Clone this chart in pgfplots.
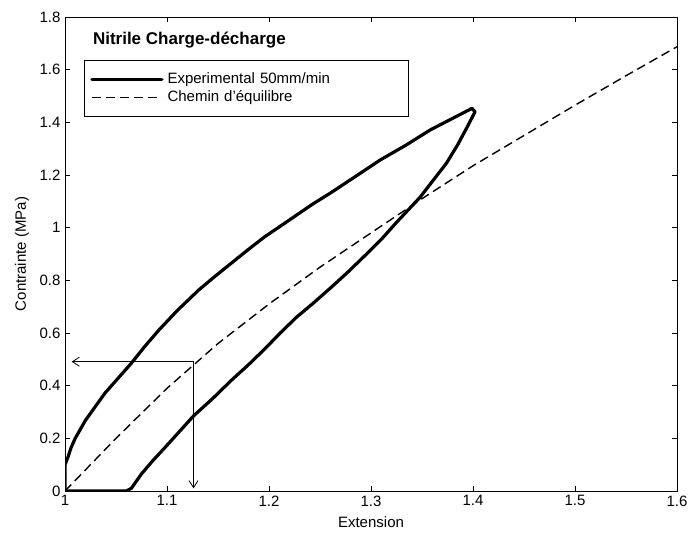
\documentclass[border=0pt]{standalone}
\usepackage{fontspec}
\setmainfont{Liberation Sans}
\usepackage{pgfplots}
\pgfplotsset{compat=1.18}
\usetikzlibrary{arrows.meta}

% Loading/unloading loop of the nitrile sample (one closed path)
\pgfplotstableread{
x y
1.000 0.000
1.000 0.100
1.003 0.130
1.006 0.165
1.010 0.200
1.020 0.268
1.030 0.322
1.039 0.371
1.052 0.428
1.065 0.485
1.078 0.548
1.092 0.611
1.110 0.685
1.131 0.763
1.147 0.815
1.163 0.865
1.180 0.918
1.196 0.966
1.212 1.008
1.226 1.045
1.243 1.090
1.260 1.131
1.285 1.195
1.309 1.257
1.335 1.315
1.358 1.371
1.380 1.415
1.399 1.453
1.402 1.440
1.394 1.380
1.385 1.315
1.374 1.245
1.360 1.175
1.348 1.115
1.325 1.020
1.310 0.955
1.293 0.890
1.277 0.830
1.260 0.770
1.243 0.712
1.227 0.660
1.211 0.600
1.196 0.540
1.180 0.480
1.163 0.420
1.145 0.352
1.126 0.285
1.112 0.225
1.098 0.165
1.086 0.115
1.075 0.065
1.065 0.010
1.060 0.000
1.000 0.000
}\loopdata

% Equilibrium path
\pgfplotstableread{
x y
1.000 0.000
1.050 0.200
1.100 0.390
1.150 0.560
1.200 0.710
1.250 0.850
1.300 0.980
1.350 1.110
1.400 1.235
1.450 1.350
1.500 1.465
1.550 1.577
1.600 1.687
}\eqdata

\begin{document}
\begin{tikzpicture}
\begin{axis}[
  name=ax,
  scale only axis,
  width=612pt, height=474pt,
  xmin=1, xmax=1.6, ymin=0, ymax=1.8,
  xtick={1,1.1,1.2,1.3,1.4,1.5,1.6},
  ytick={0,0.2,0.4,0.6,0.8,1,1.2,1.4,1.6,1.8},
  xticklabels={1,1.1,1.2,1.3,1.4,1.5,1.6},
  yticklabels={0,0.2,0.4,0.6,0.8,1,1.2,1.4,1.6,1.8},
  tick align=inside,
  major tick length=5pt,
  every tick/.style={black, line width=0.6pt},
  axis line style={line width=0.8pt},
  tick label style={font=\fontsize{15}{17}\selectfont},
  xticklabel style={yshift=-1pt},
  yticklabel style={xshift=-1pt},
  xlabel={Extension},
  ylabel={Contrainte (MPa)},
  every axis x label/.style={at={(axis description cs:0.5,-0.066)}, anchor=center, font=\fontsize{15}{17}\selectfont},
  every axis y label/.style={at={(axis description cs:-0.0703,0.5)}, anchor=center, rotate=90, font=\fontsize{15}{17}\selectfont},
  legend cell align=left,
  legend style={
    at={(rel axis cs:0.031,0.909)}, anchor=north west,
    draw=black, line width=0.7pt,
    font=\fontsize{15}{17}\selectfont,
    inner xsep=6pt, inner ysep=10pt,
    row sep=0pt,
    nodes={inner xsep=4pt, inner ysep=2pt, text height=11pt, text depth=3pt},
  },
  legend image code/.code={\draw[#1] (0pt,0pt) -- (70pt,0pt);},
  legend style={nodes={text width=231pt}},
]
\addplot[black, line width=3.2pt, line join=round, line cap=round] table[x=x,y=y] {\loopdata};
\addlegendentry{Experimental 50mm/min}
\addplot[black, line width=1.4pt, dash pattern=on 9pt off 5pt] table[x=x,y=y] {\eqdata};
\addlegendentry{Chemin d'équilibre}

\node[anchor=base west, font=\bfseries\fontsize{17}{19}\selectfont] at (rel axis cs:0.040,0.941) {Nitrile Charge-décharge};

\draw[line width=0.8pt, -{Straight Barb[length=7pt, width=9pt]}] (axis cs:1.126,0.491) -- (axis cs:1.0065,0.491);
\draw[line width=0.8pt, -{Straight Barb[length=7pt, width=9pt]}] (axis cs:1.126,0.491) -- (axis cs:1.126,0.01);
\end{axis}
\pgfresetboundingbox
\path ([shift={(-65pt,-44pt)}]ax.south west) rectangle ([shift={(11pt,17pt)}]ax.north east);
\end{tikzpicture}
\end{document}
